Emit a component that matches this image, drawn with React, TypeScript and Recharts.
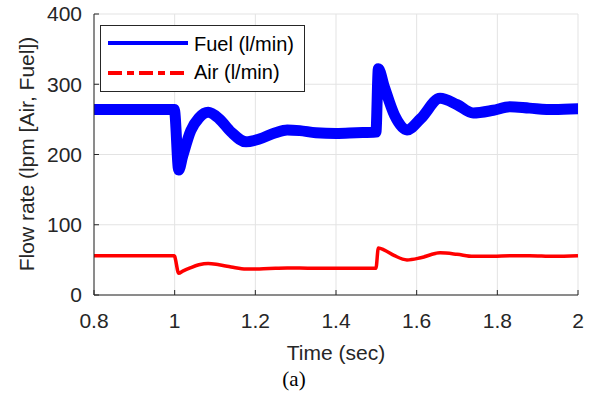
import { LineChart, Line, XAxis, YAxis, CartesianGrid, Legend, Label } from 'recharts'

// sampled off the figure (time in sec, flow in l/min)
const time = [
  0.8, 0.9, 0.999, 1.0, 1.01, 1.02, 1.04, 1.06, 1.083, 1.11, 1.14, 1.177, 1.21, 1.25, 1.279, 1.31,
  1.35, 1.4, 1.45, 1.499, 1.505, 1.52, 1.545, 1.576, 1.61, 1.658, 1.7, 1.74, 1.79, 1.831, 1.88, 1.94, 2.0,
]
const fuelFlow = [
  264, 264, 264, 262, 178, 198, 234, 252, 260, 251, 232, 218, 222, 231, 235, 234,
  231, 230, 231, 232, 322, 296, 256, 235, 251, 280, 271, 259, 263, 268, 266, 264, 265,
]
const airFlow = [
  56, 56, 56, 55, 31, 34, 39, 43, 45, 43, 40, 37, 37, 38, 38.5, 38.5,
  38, 38, 38, 38, 67, 64, 56, 50, 53, 60, 58, 55, 55, 56, 56, 55, 56,
]
const timeTicks = [0.8, 1, 1.2, 1.4, 1.6, 1.8, 2]
const flowTicks = [0, 100, 200, 300, 400]

const data = time.map((t, i) => ({ t, fuel: fuelFlow[i], air: airFlow[i] }))

const FONT = '"Liberation Sans", Arial, Helvetica, sans-serif'
const AXIS = '#262626'
const tickStyle = { fill: AXIS, fontSize: 21, fontFamily: FONT }

const LegendBox = () => (
  <svg width={206} height={68} style={{ display: 'block' }}>
    <rect x={0.5} y={0.5} width={204} height={66} fill="#fff" stroke={AXIS} />
    <line x1={8} x2={88} y1={18} y2={18} stroke="#0000ff" strokeWidth={4} />
    <text x={94} y={19} dominantBaseline="central" fill="#000" fontSize={20} fontFamily={FONT}>
      Fuel (l/min)
    </text>
    <line x1={8} x2={88} y1={48} y2={48} stroke="#ff0000" strokeWidth={4} strokeDasharray="14 5 7 5" />
    <text x={94} y={47} dominantBaseline="central" fill="#000" fontSize={20} fontFamily={FONT}>
      Air (l/min)
    </text>
  </svg>
)

export default function App() {
  return (
    <div style={{ position: 'absolute', left: 0, top: 0, background: '#fff' }}>
      <LineChart width={598} height={397} data={data} margin={{ top: 14, right: 20, left: 34, bottom: 62 }}>
        <CartesianGrid stroke="#e3e3e3" strokeWidth={1} />
        <XAxis
          dataKey="t"
          type="number"
          domain={[0.8, 2]}
          ticks={timeTicks}
          height={40}
          tickSize={-5}
          tickMargin={23}
          tick={tickStyle}
          stroke={AXIS}
          allowDataOverflow
        >
          <Label
            content={() => (
              <g>
                <text x={336} y={360} textAnchor="middle" fill={AXIS} fontSize={21} fontFamily={FONT}>
                  Time (sec)
                </text>
                <text x={294} y={386} textAnchor="middle" fill="#000" fontSize={21} fontFamily='"Liberation Serif", "Times New Roman", serif'>
                  (a)
                </text>
              </g>
            )}
          />
        </XAxis>
        <XAxis
          xAxisId="top"
          dataKey="t"
          type="number"
          orientation="top"
          mirror
          height={0}
          domain={[0.8, 2]}
          ticks={timeTicks}
          tick={false}
          tickSize={5}
          stroke={AXIS}
        />
        <YAxis
          type="number"
          domain={[0, 400]}
          ticks={flowTicks}
          width={60}
          tickSize={-5}
          tickMargin={17}
          tick={tickStyle}
          stroke={AXIS}
        >
          <Label
            content={() => (
              <text
                x={26}
                y={154}
                transform="rotate(-90 26 154)"
                textAnchor="middle"
                dominantBaseline="central"
                fill={AXIS}
                fontSize={21}
                fontFamily={FONT}
              >
                Flow rate (lpm [Air, Fuel])
              </text>
            )}
          />
        </YAxis>
        <YAxis
          yAxisId="right"
          orientation="right"
          mirror
          width={0}
          type="number"
          domain={[0, 400]}
          ticks={flowTicks}
          tick={false}
          tickSize={5}
          stroke={AXIS}
        />
        <Line
          type="monotone"
          dataKey="fuel"
          stroke="#0000ff"
          strokeWidth={11}
          strokeLinejoin="round"
          strokeLinecap="round"
          dot={false}
          isAnimationActive={false}
        />
        <Line
          type="monotone"
          dataKey="air"
          stroke="#ff0000"
          strokeWidth={3.5}
          strokeLinejoin="round"
          dot={false}
          isAnimationActive={false}
        />
        <Legend
          layout="vertical"
          align="center"
          verticalAlign="middle"
          wrapperStyle={{ left: 100, top: 25, width: 206, height: 68 }}
          content={() => <LegendBox />}
        />
      </LineChart>
    </div>
  )
}
